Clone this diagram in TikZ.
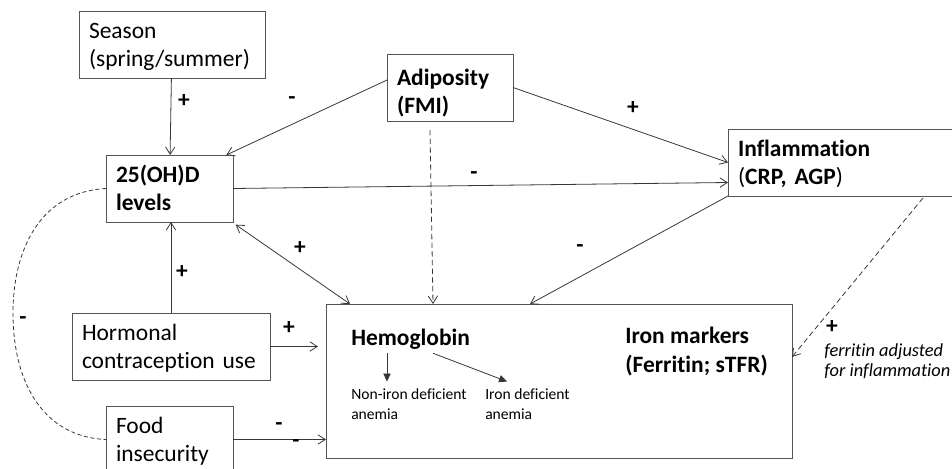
\documentclass[tikz,border=0pt]{standalone}
\usepackage{fontspec}
\setmainfont{Carlito}[Ligatures=NoCommon]
\usetikzlibrary{arrows.meta,positioning}
\definecolor{linegray}{RGB}{55,55,55}
\definecolor{boxgray}{RGB}{85,85,85}
\newcommand\mainfs{\fontsize{17.6pt}{21.3pt}\selectfont}
\newcommand\smallfs{\fontsize{11.7pt}{14.3pt}\selectfont}
\newcommand\notefs{\fontsize{13.8pt}{14.3pt}\selectfont}
\frenchspacing

\begin{document}
\begin{tikzpicture}[x=0.75pt, y=-0.75pt,
  fbox/.style={rectangle, draw=boxgray, line width=0.75pt, anchor=north west,
               outer sep=0pt, inner xsep=7.5pt, inner ysep=0pt, text width=#1,
               text height=20.5pt, text depth=29.75pt,
               minimum height=50.25pt, align=left, font=\mainfs},
  bigbox/.style={rectangle, draw=boxgray, line width=0.75pt, anchor=north west,
                 outer sep=0pt, minimum width=349.5pt, minimum height=115.5pt},
  txt/.style={inner sep=0pt, anchor=base west, align=left, font=#1},
  sign/.style={font=\mainfs\bfseries, inner sep=0pt},
  arr/.style={-{Straight Barb[length=5.5pt,width=7pt]}, line width=0.6pt, draw=linegray},
  darr/.style={arr, dashed, dash pattern=on 4pt off 2.5pt},
  tri/.style={-{Triangle[length=6pt,width=5.5pt]}, line width=0.6pt, draw=linegray}
]
  \useasboundingbox (0,0) rectangle (952,468);

  \node[fbox=124.5pt] (season) at (79,11)  {Season\\(spring/summer)};
  \node[fbox=79.5pt, text height=23.5pt, text depth=26.75pt] (adip) at (387,54)
        {\textbf{Adiposity}\\\textbf{(FMI)}};
  \node[fbox=80.25pt] (vitd)   at (106,155) {\textbf{25(OH)D}\\\textbf{levels}};
  \node[fbox=156pt]   (infl)   at (728,129) {\textbf{Inflammation}\\(\textbf{CRP, AGP})};
  \node[fbox=133.5pt] (horm)   at (72,313) {Hormonal\\contraception use};
  \node[fbox=80.25pt] (food)   at (106,406) {Food\\insecurity};
  \node[bigbox]       (big)    at (326,304) {};

  % base of a two-line text is its last line
  \node[txt=\mainfs\bfseries] (hemo) at (351,345) {Hemoglobin};
  \node[txt=\mainfs\bfseries] (ironm) at (625,372) {Iron markers\\(Ferritin; sTFR)};
  \node[txt=\smallfs] (noniron) at (351,419) {Non-iron deficient\\anemia};
  \node[txt=\smallfs] (irondef) at (485,419) {Iron deficient\\anemia};
  \node[txt=\notefs\itshape] (adjust) at (824,376) {ferritin adjusted\\for inflammation};

  \draw[arr] (season) -- (vitd);
  \draw[arr] ([yshift=5.6pt]adip.west) -- ([xshift=-5pt]vitd.north east);
  \draw[arr] (adip.east) -- (infl.west);
  \draw[arr] (vitd.east) -- ([yshift=-15pt]infl.west);
  \draw[darr] ([xshift=-15pt,yshift=-6.75pt]adip.south) -- ([xshift=80.25pt]big.north west);
  \draw[arr, {Straight Barb[length=5.5pt,width=7pt]}-{Straight Barb[length=5.5pt,width=7pt]}]
        ([shift={(2pt,-2pt)}]vitd.south east) -- ([xshift=18pt]big.north west);
  \draw[arr] (horm.north) -- (horm.north |- vitd.south);
  \draw[arr, shorten >=6pt] (horm.east) -- (horm.east -| big.west);
  \draw[arr] (food.east) -- (food.east -| big.west);
  \draw[arr] (infl.south west) -- ([xshift=153pt]big.north west);
  \draw[darr] ([xshift=-24.75pt,yshift=-1.5pt]infl.south east) -- ([yshift=18pt]big.east);
  \draw[line width=0.6pt, draw=linegray, dashed, dash pattern=on 3pt off 2pt]
        (vitd.west) .. controls (40,192) and (13,250) .. (13,313)
        .. controls (13,385) and (45,437) .. (food.west);

  \draw[tri] ([xshift=27pt,yshift=-3pt]hemo.south west) -- ([xshift=27pt,yshift=5.5pt]noniron.north west);
  \draw[tri] ([xshift=61.5pt,yshift=-3pt]hemo.south west) -- ([xshift=16.5pt,yshift=5.5pt]irondef.north west);

  \node[sign] at (184,101) {+};
  \node[sign] at (292,101) {-};
  \node[sign] at (633,108) {+};
  \node[sign] at (474,176) {-};
  \node[sign] at (300,248) {+};
  \node[sign] at (182,272) {+};
  \node[sign] at (289,328) {+};
  \node[sign] at (279,427) {-};
  \node[sign] at (296,444) {-};
  \node[sign] at (580,249) {-};
  \node[sign] at (832,327) {+};
  \node[sign] at (23,321) {-};
\end{tikzpicture}
\end{document}
